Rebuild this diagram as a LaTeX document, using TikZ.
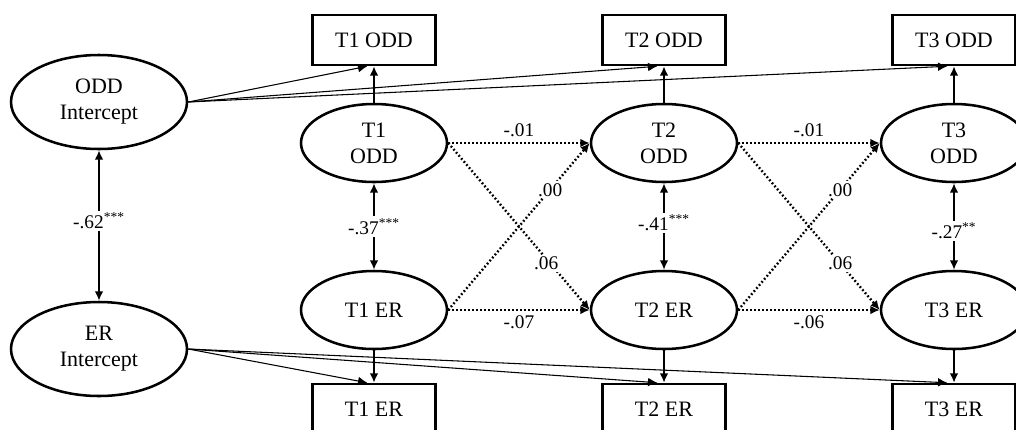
\documentclass[tikz,border=0pt]{standalone}
\usepackage{fontspec}
\setmainfont{Liberation Serif}
\usetikzlibrary{arrows.meta,shapes.geometric}
\begin{document}
\begin{tikzpicture}[x=0.75pt,y=-0.75pt,
  lat/.style={ellipse,draw,line width=1.9pt,minimum width=109.5pt,minimum height=58.5pt,inner sep=0pt,align=center,font=\fontsize{16.5}{19.5}\selectfont},
  icpt/.style={ellipse,draw,line width=1.9pt,minimum width=132pt,minimum height=70.5pt,inner sep=0pt,align=center,font=\fontsize{16.5}{19.5}\selectfont},
  obs/.style={rectangle,draw,line width=1.9pt,minimum width=92.25pt,minimum height=37.5pt,inner sep=0pt,font=\fontsize{16.5}{19.5}\selectfont},
  tip/.style={-{Latex[length=7pt,width=6.5pt]}},
  load/.style={tip,line width=1.8pt},
  slope/.style={tip,line width=0.8pt},
  cov/.style={{Latex[length=7pt,width=6.5pt]}-{Latex[length=7pt,width=6.5pt]},line width=1.8pt},
  path/.style={tip,line width=1.8pt,dash pattern=on 1.3pt off 1.7pt},
  lab/.style={font=\fontsize{14.5}{17}\selectfont,inner sep=1.5pt},
  wlab/.style={lab,fill=white}
]
\useasboundingbox (0,0) rectangle (1016,429);
\clip (0,0) rectangle (1016,429);

% intercepts
\node[icpt] (oi) at (99,102) {ODD\\Intercept};
\node[icpt] (ei) at (99,349) {ER\\Intercept};

% latent
\node[lat] (o1) at (374,143) {T1\\ODD};
\node[lat] (o2) at (664,143) {T2\\ODD};
\node[lat] (o3) at (954,143) {T3\\ODD};
\node[lat] (e1) at (374,310) {T1 ER};
\node[lat] (e2) at (664,310) {T2 ER};
\node[lat] (e3) at (954,310) {T3 ER};

% observed
\node[obs] (bo1) at (374,40) {T1 ODD};
\node[obs] (bo2) at (664,40) {T2 ODD};
\node[obs] (bo3) at (954,40) {T3 ODD};
\node[obs] (be1) at (374,409) {T1 ER};
\node[obs] (be2) at (664,409) {T2 ER};
\node[obs] (be3) at (954,409) {T3 ER};

% loadings
\foreach \i in {1,2,3}{
  \draw[load] (o\i.north) -- (bo\i.south);
  \draw[load] (e\i.south) -- (be\i.north);
  \draw[slope] (oi.east) -- ([xshift=-5pt]bo\i.south);
  \draw[slope] (ei.east) -- ([xshift=-5pt]be\i.north);
}

% covariances
\draw[cov] (oi.south) -- node[wlab,pos=0.47]{-.62\textsuperscript{***}} (ei.north);
\draw[cov] (o1.south) -- node[wlab]{-.37\textsuperscript{***}} (e1.north);
\draw[cov] (o2.south) -- node[wlab,pos=0.46]{-.41\textsuperscript{***}} (e2.north);
\draw[cov] (o3.south) -- node[wlab,pos=0.55]{-.27\textsuperscript{**}} (e3.north);

% autoregressive and cross-lagged paths
\draw[path] (o1.east) -- node[lab,above=2pt]{-.01} (o2.west);
\draw[path] (e1.east) -- node[lab,below=2pt]{-.07} (e2.west);
\draw[path] (e1.east) -- node[wlab,pos=0.72]{.00} (o2.west);
\draw[path] (o1.east) -- node[wlab,pos=0.72,xshift=-3pt]{.06} (e2.west);

\draw[path] (o2.east) -- node[lab,above=2pt]{-.01} (o3.west);
\draw[path] (e2.east) -- node[lab,below=2pt]{-.06} (e3.west);
\draw[path] (e2.east) -- node[wlab,pos=0.72]{.00} (o3.west);
\draw[path] (o2.east) -- node[wlab,pos=0.72]{.06} (e3.west);
\end{tikzpicture}
\end{document}
